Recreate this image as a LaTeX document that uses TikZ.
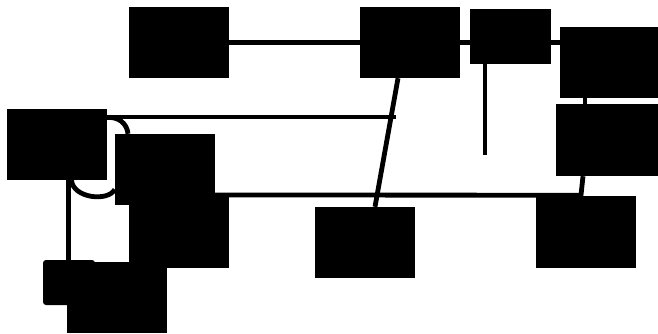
\documentclass[tikz,border=0pt]{standalone}
\usepackage{amsmath}
\usepackage{xcolor}
\usepackage{tikz}

\begin{document}
\begin{tikzpicture}[x=1pt, y=-1pt]
        \tikzstyle{box} = [rectangle, fill=black, text=black, minimum width=100pt, minimum height=71pt, inner sep=0pt, text height=12pt, text depth=30pt, font=\fontsize{17}{20}\selectfont]
        \tikzstyle{line} = [draw, line width=4.8pt]

        \useasboundingbox (0,0) rectangle (658,333);

        \node [box] (N) at (179,42.5) {$N$};
        \node [box] (A) at (410,42.5) {$A$};
        \node [box, minimum width=81pt, minimum height=55pt] (B) at (510.5,36.5) {$B$};
        \node [box, minimum width=98pt] (M) at (609,62.5) {$M$};
        \node [box, minimum width=102pt, minimum height=72pt] (R) at (607,140) {$R$};
        \node [box] (p) at (56.5,144.5) {$(p)$};
        \node [box] (mp) at (165,169.5) {$(m')$};
        \node [box] (U) at (179,232.5) {$U$};
        \node [box, minimum width=52pt, minimum height=45pt, rounded corners=3pt] (sm) at (69,282.5) {};
        \node [box] (s) at (117,297.5) {$(s)$};
        \node [box] (n) at (365,242.5) {$n$};
        \node [box, minimum height=72pt] (P) at (585.5,232) {$P$};

        \coordinate (Bfoot) at (485,155);
        \coordinate (pend) at (396,117);

        \path [line] (N) -- (A);
        \path [line] (A.east) -- (A.east -| B.west);
        \path [line] (B.east |- A.east) -- (A.east -| M.west);
        \path [line] (B.south -| Bfoot) -- (Bfoot);
        \path [line] ([xshift=-12pt]A.south) -- ([xshift=10pt]n.north);
        \path [line] (p.east |- pend) -- (pend);
        \path [line] ([xshift=-24pt]M.south) -- ([xshift=-22pt]R.north);
        \path [line] ([xshift=-24pt]R.south) -- ++(-2,19) -- (mp.east |- 0,195);
        \path [line] ([xshift=12pt]p.south) -- ([xshift=12pt]p.south |- sm.north);
        \path [line] ([yshift=27pt]p.east) .. controls +(11,-1) and +(-1,-11) .. ([xshift=-37pt]mp.north);
        \path [line] ([xshift=15pt]p.south) .. controls +(1.5,18) and +(-7,12.5) .. ([yshift=-20pt]mp.west);
    \end{tikzpicture}
\end{document}
